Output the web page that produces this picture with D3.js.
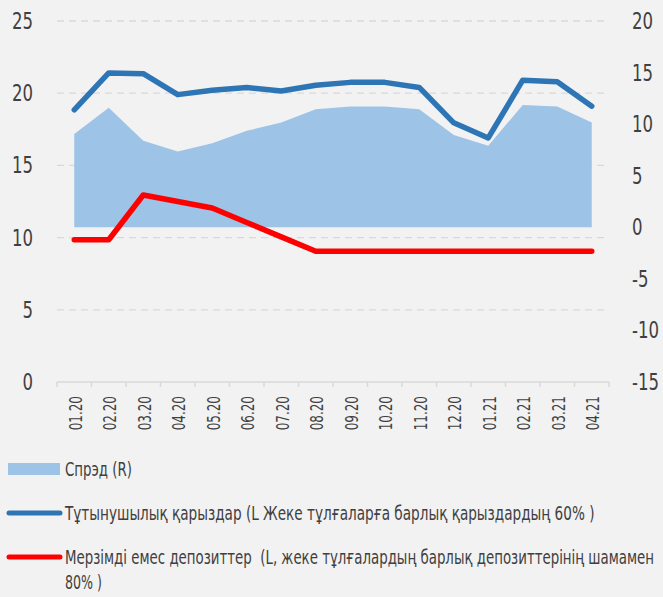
<!DOCTYPE html>
<html>
<head>
<meta charset="utf-8">
<script src="https://cdn.jsdelivr.net/npm/d3@7"></script>
<style>
  body { margin: 0; background: #f2f2f2; }
  svg { display: block; }
  text { font-family: "DejaVu Sans Condensed", "Roboto", sans-serif; fill: #404040; }
</style>
</head>
<body>
<svg id="chart"></svg>
<script>
const width = 663;
const height = 597;

// Data
const months = ["01.20", "02.20", "03.20", "04.20", "05.20", "06.20", "07.20", "08.20",
  "09.20", "10.20", "11.20", "12.20", "01.21", "02.21", "03.21", "04.21"];
const spread = [9.05, 11.6, 8.4, 7.35, 8.15, 9.35, 10.15, 11.45, 11.7, 11.7, 11.45, 8.95, 7.9, 11.85, 11.7, 10.15];
const consumerLoans = [18.85, 21.4, 21.35, 19.9, 20.2, 20.4, 20.15, 20.55, 20.75, 20.75, 20.4, 17.95, 16.9, 20.9, 20.8, 19.1];
const demandDeposits = [9.85, 9.85, 12.95, 12.5, 12.05, 11.05, 10.05, 9.05, 9.05, 9.05, 9.05, 9.05, 9.05, 9.05, 9.05, 9.05];
const leftTicks = [0, 5, 10, 15, 20, 25];
const rightTicks = [-15, -10, -5, 0, 5, 10, 15, 20];

const margin = { top: 21, left: 57, right: 54, bottom: 215 };
const plotBottom = height - margin.bottom;

const svg = d3.select("#chart")
  .attr("width", width)
  .attr("height", height);

svg.append("rect")
  .attr("width", width)
  .attr("height", height)
  .attr("fill", "#f2f2f2");

const x = d3.scaleBand()
  .domain(months)
  .range([margin.left, width - margin.right]);

const yLeft = d3.scaleLinear()
  .domain([0, 25])
  .range([plotBottom, margin.top]);

const yRight = d3.scaleLinear()
  .domain([-15, 20])
  .range([plotBottom, margin.top]);

const cx = d => x(d) + x.bandwidth() / 2;

// Gridlines (left axis ticks)
svg.append("g")
  .selectAll("line")
  .data(leftTicks.filter(t => t > 0))
  .join("line")
  .attr("x1", margin.left)
  .attr("x2", width - margin.right)
  .attr("y1", d => yLeft(d))
  .attr("y2", d => yLeft(d))
  .attr("stroke", "#d9d9d9")
  .attr("stroke-width", 1.3)
  .attr("stroke-dasharray", "7,5");

// Spread area (right axis)
const area = d3.area()
  .x((d, i) => cx(months[i]))
  .y0(yRight(0))
  .y1(d => yRight(d));

svg.append("path")
  .datum(spread)
  .attr("fill", "#9dc3e6")
  .attr("d", area);

// Lines (left axis)
const line = d3.line()
  .x((d, i) => cx(months[i]))
  .y(d => yLeft(d));

svg.append("path")
  .datum(consumerLoans)
  .attr("fill", "none")
  .attr("stroke", "#2e75b6")
  .attr("stroke-width", 5.5)
  .attr("stroke-linecap", "round")
  .attr("stroke-linejoin", "round")
  .attr("d", line);

svg.append("path")
  .datum(demandDeposits)
  .attr("fill", "none")
  .attr("stroke", "#ff0000")
  .attr("stroke-width", 5.5)
  .attr("stroke-linecap", "round")
  .attr("stroke-linejoin", "round")
  .attr("d", line);

// X axis
const xAxis = svg.append("g")
  .attr("transform", `translate(0,${plotBottom})`);

xAxis.append("line")
  .attr("x1", margin.left)
  .attr("x2", width - margin.right)
  .attr("stroke", "#d9d9d9")
  .attr("stroke-width", 1.5);

xAxis.selectAll(".tick-mark")
  .data(months.concat(["end"]))
  .join("line")
  .attr("class", "tick-mark")
  .attr("x1", (d, i) => margin.left + i * x.step())
  .attr("x2", (d, i) => margin.left + i * x.step())
  .attr("y1", 0)
  .attr("y2", 5)
  .attr("stroke", "#d9d9d9")
  .attr("stroke-width", 1.5);

// narrow font: squeeze glyphs horizontally
xAxis.selectAll(".x-label")
  .data(months)
  .join("text")
  .attr("class", "x-label")
  .attr("transform", d => `translate(${cx(d) + 7.5},14) rotate(-90) scale(0.74,1)`)
  .attr("text-anchor", "end")
  .style("font-size", "18px")
  .text(d => d);

// Left axis labels
svg.append("g")
  .selectAll("text")
  .data(leftTicks)
  .join("text")
  .attr("transform", d => `translate(33,${yLeft(d) + 8}) scale(0.8,1)`)
  .attr("text-anchor", "end")
  .style("font-size", "23px")
  .text(d => d);

// Right axis labels
svg.append("g")
  .selectAll("text")
  .data(rightTicks)
  .join("text")
  .attr("transform", d => `translate(632,${yRight(d) + 8}) scale(0.8,1)`)
  .attr("text-anchor", "start")
  .style("font-size", "23px")
  .text(d => d < 0 ? "-" + Math.abs(d) : d);

// Legend
const legend = svg.append("g");

legend.append("rect")
  .attr("x", 8)
  .attr("y", 463)
  .attr("width", 52)
  .attr("height", 12)
  .attr("fill", "#9dc3e6");

legend.append("line")
  .attr("x1", 9).attr("x2", 60)
  .attr("y1", 513).attr("y2", 513)
  .attr("stroke", "#2e75b6")
  .attr("stroke-width", 5)
  .attr("stroke-linecap", "round");

legend.append("line")
  .attr("x1", 9).attr("x2", 60)
  .attr("y1", 557).attr("y2", 557)
  .attr("stroke", "#ff0000")
  .attr("stroke-width", 5)
  .attr("stroke-linecap", "round");

// legend texts with the width they take in the picture
const legendTexts = [
  { text: "Спрэд (R)", y: 476, w: 67 },
  { text: "Тұтынушылық қарыздар (L Жеке тұлғаларға барлық қарыздардың 60% )", y: 520, w: 530 },
  { text: "Мерзімді емес депозиттер  (L, жеке тұлғалардың барлық депозиттерінің шамамен", y: 564, w: 590 },
  { text: "80% )", y: 589, w: 37 }
];

legend.selectAll(".legend-text")
  .data(legendTexts)
  .join("text")
  .attr("class", "legend-text")
  .style("font-size", "19px")
  .style("white-space", "pre")
  .text(d => d.text)
  .attr("transform", function(d) {
    const len = this.getComputedTextLength();
    return `translate(65,${d.y}) scale(${d.w / len},1)`;
  });
</script>
</body>
</html>
